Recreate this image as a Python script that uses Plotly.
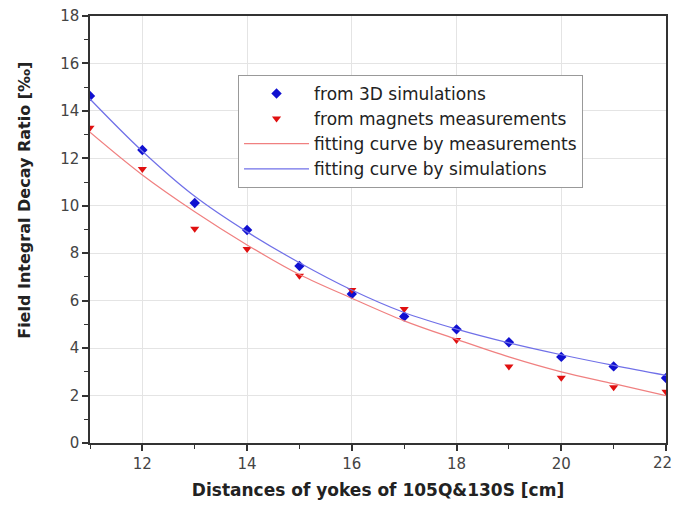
import plotly.graph_objects as go

x_vals = [11, 12, 13, 14, 15, 16, 17, 18, 19, 20, 21, 22]
sim_vals = [14.63, 12.35, 10.12, 8.98, 7.46, 6.28, 5.33, 4.79, 4.25, 3.63, 3.23, 2.74]
meas_vals = [13.29, 11.55, 9.03, 8.18, 7.05, 6.45, 5.65, 4.34, 3.22, 2.75, 2.35, 2.16]
fit_meas = [13.1, 11.3, 9.75, 8.35, 7.1, 6.1, 5.15, 4.37, 3.63, 3.0, 2.5, 2.0]
fit_sim = [14.5, 12.3, 10.4, 8.9, 7.6, 6.45, 5.5, 4.8, 4.22, 3.72, 3.27, 2.85]

FONT = "DejaVu Sans, Arial, sans-serif"

fig = go.Figure()
fig.add_trace(go.Scatter(x=x_vals, y=sim_vals, mode="markers", name="from 3D simulations",
                         marker=dict(symbol="diamond", size=8, color="#1010d0"), cliponaxis=True))
fig.add_trace(go.Scatter(x=x_vals, y=meas_vals, mode="markers", name="from magnets measurements",
                         marker=dict(symbol="triangle-down", size=8, color="#e01010"), cliponaxis=True))
fig.add_trace(go.Scatter(x=x_vals, y=fit_meas, mode="lines", name="fitting curve by measurements",
                         line=dict(color="#f08080", width=1.2, shape="spline")))
fig.add_trace(go.Scatter(x=x_vals, y=fit_sim, mode="lines", name="fitting curve by simulations",
                         line=dict(color="#7070e8", width=1.2, shape="spline")))

axis_common = dict(
    showline=True, linecolor="#333", linewidth=1.5, mirror=True,
    ticks="outside", ticklen=6, tickwidth=1.5, tickcolor="#333",
    showgrid=True, gridcolor="#e4e4e4", gridwidth=1,
    zeroline=False, automargin=False,
    tickfont=dict(family=FONT, size=15, color="#444"),
    minor=dict(ticks="outside", ticklen=4, tickwidth=1.2, tickcolor="#333", dtick=1, showgrid=False),
)

fig.update_layout(
    width=673, height=507,
    margin=dict(l=90, r=7, t=16, b=64),
    paper_bgcolor="white", plot_bgcolor="white",
    font=dict(family=FONT, color="#222"),
    xaxis=dict(range=[11, 22], dtick=2, tick0=12,
               title=dict(text="<b>Distances of yokes of 105Q&130S [cm]</b>",
                          font=dict(size=17, color="#222", family=FONT), standoff=12),
               **axis_common),
    yaxis=dict(range=[0, 18], dtick=2, tick0=0, **axis_common),
    legend=dict(x=0.257, y=0.862, xanchor="left", yanchor="top",
                bgcolor="white", bordercolor="#999", borderwidth=1,
                font=dict(size=17, color="#222", family=FONT),
                tracegroupgap=0, itemwidth=65),
    showlegend=True,
    annotations=[
        dict(x=22, y=0, xref="x", yref="y", text="22", showarrow=False,
             xanchor="center", yanchor="top", yshift=-9, xshift=-4,
             font=dict(family=FONT, size=15, color="#444")),
        dict(x=-0.115, y=0.569, xref="paper", yref="paper",
             text="<b>Field Integral Decay Ratio [‰]</b>", textangle=-90,
             showarrow=False, xanchor="center", yanchor="middle",
             font=dict(family=FONT, size=16, color="#222")),
    ],
)

fig.write_html("out.html")
